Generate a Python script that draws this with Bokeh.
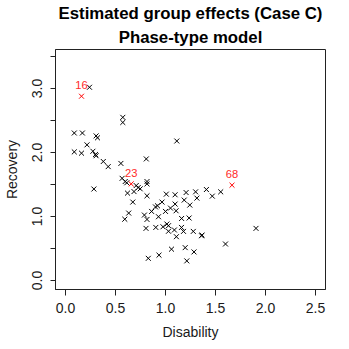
from bokeh.plotting import figure
from bokeh.models import Range1d, Title, FixedTicker, CustomJSTickFormatter
from bokeh.embed import file_html
from bokeh.resources import INLINE
from bokeh.core.properties import value

# ---- data ----
disability = [0.24, 0.573, 0.573, 0.088, 0.169, 0.306, 0.32, 0.215, 1.113, 0.088,
              0.16, 0.274, 0.30, 0.306, 0.378, 0.427, 0.554, 0.808, 0.284, 0.566,
              0.597, 0.613, 0.707, 0.727, 0.747, 0.815, 0.815, 0.62, 0.685, 0.673,
              0.815, 0.632, 0.593, 0.789, 0.815, 0.805, 0.828, 0.861, 0.90, 0.92,
              0.965, 0.903, 0.93, 0.935, 0.975, 1.0, 1.014, 1.03, 1.03, 1.008,
              1.06, 1.096, 1.206, 1.301, 1.409, 1.552, 1.468, 1.314, 1.187, 1.096,
              1.243, 1.05, 1.106, 1.161, 1.236, 1.089, 1.16, 1.18, 1.109, 1.278,
              1.36, 1.365, 1.905, 1.60, 1.197, 1.285, 1.213]
recovery = [3.02, 2.55, 2.47, 2.305, 2.305, 2.26, 2.23, 2.12, 2.18, 2.01,
            1.99, 2.02, 1.97, 1.95, 1.86, 1.78, 1.83, 1.90, 1.43, 1.597,
            1.547, 1.527, 1.484, 1.453, 1.433, 1.547, 1.51, 1.366, 1.39, 1.226,
            1.324, 1.054, 0.958, 1.023, 0.955, 0.815, 0.347, 1.08, 1.15, 1.168,
            1.226, 0.83, 0.997, 0.397, 0.84, 1.08, 0.883, 0.857, 0.77, 1.35,
            0.49, 1.34, 1.375, 1.386, 1.422, 1.386, 1.319, 1.288, 1.257, 1.195,
            1.179, 1.132, 1.09, 0.97, 0.977, 0.79, 0.83, 0.768, 0.685, 0.768,
            0.70, 0.71, 0.815, 0.571, 0.514, 0.447, 0.307]
hi_disability = [0.16, 0.657, 1.665]
hi_recovery = [2.88, 1.51, 1.49]
hi_labels = ["16", "23", "68"]
x_ticks = [0.0, 0.5, 1.0, 1.5, 2.0, 2.5]
y_ticks = [0.0, 0.5, 1.0, 1.5, 2.0, 2.5, 3.0, 3.5]
title_lines = ["Estimated group effects (Case C)", "Phase-type model"]
x_label = "Disability"
y_label = "Recovery"

FONT = "Liberation Sans"
INK = "#1a1a1a"

p = figure(width=349, height=349, output_backend="svg", toolbar_location=None,
           title=None,
           x_range=Range1d(-0.1, 2.6), y_range=Range1d(-0.14, 3.61),
           min_border_left=49, min_border_right=24,
           min_border_top=49, min_border_bottom=60)
p.background_fill_color = "white"
p.border_fill_color = "white"
p.outline_line_color = "#222222"
p.outline_line_width = 1
p.xgrid.visible = False
p.ygrid.visible = False

for ax, ticks, out, standoff in ((p.xaxis, x_ticks, 6, 7), (p.yaxis, y_ticks, 5, 8)):
    ax.ticker = FixedTicker(ticks=ticks)
    ax.minor_tick_line_color = None
    ax.major_tick_out = out
    ax.major_tick_in = 0
    ax.major_tick_line_color = "#222222"
    ax.axis_line_color = "#222222"
    ax.major_label_text_font = FONT
    ax.major_label_text_font_size = "14px"
    ax.major_label_text_color = INK
    ax.major_label_standoff = standoff
    ax.axis_label_text_font = FONT
    ax.axis_label_text_font_size = "14px"
    ax.axis_label_text_font_style = "normal"
    ax.axis_label_text_color = INK

p.xaxis.axis_label = x_label
p.yaxis.axis_label = y_label
p.xaxis.axis_label_standoff = 8
p.yaxis.axis_label_standoff = 10

p.xaxis.formatter = CustomJSTickFormatter(code="return tick.toFixed(1);")
p.yaxis.formatter = CustomJSTickFormatter(
    code="return (Math.abs(tick - Math.round(tick)) < 1e-6) ? tick.toFixed(1) : '';")
p.yaxis.major_label_orientation = "vertical"

p.scatter(disability, recovery, marker="x", size=7, line_color="black", line_width=1)
p.scatter(hi_disability, hi_recovery, marker="x", size=7, line_color="red", line_width=1)
p.text(hi_disability, hi_recovery, text=hi_labels, text_align="center",
       text_baseline="alphabetic", y_offset=-11, text_color="#ff2a2a",
       text_font=value(FONT), text_font_size="11.2px")

# two-line title (later-added title sits further from the plot)
p.add_layout(Title(text=title_lines[1], align="center", offset=3, standoff=5,
                   text_font=FONT, text_font_style="bold", text_font_size="16.8px",
                   text_color="black"), "above")
p.add_layout(Title(text=title_lines[0], align="center", offset=3, standoff=2,
                   text_font=FONT, text_font_style="bold", text_font_size="16.8px",
                   text_color="black"), "above")

open("out.html", "w").write(file_html(p, INLINE))
